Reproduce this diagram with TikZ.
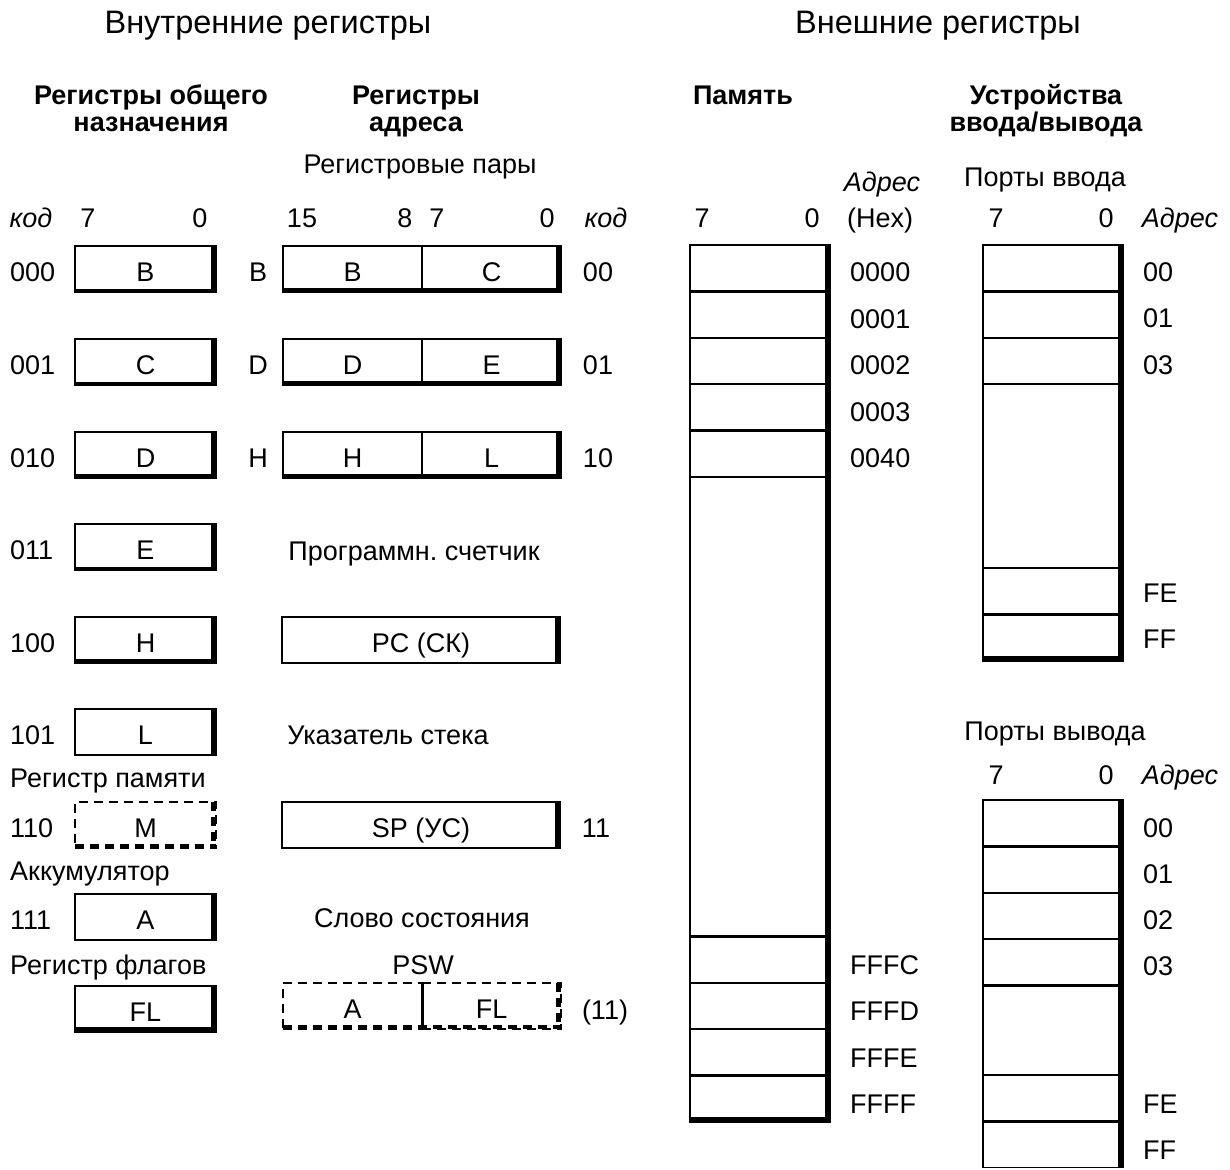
\documentclass[tikz,border=0pt]{standalone}
\usepackage{fontspec}
\setmainfont{Liberation Sans}
\usepackage{tikz}
\usetikzlibrary{calc}

\newcommand{\regfont}{\fontsize{27}{27}\selectfont}
\newcommand{\titlefont}{\fontsize{32.5}{33}\selectfont}
\tikzset{
  txt/.style={font=\regfont, inner sep=0pt, text height=19.5pt, text depth=0pt},
  itx/.style={txt, font=\regfont\itshape},
  hdr/.style={font=\regfont\bfseries, align=center, inner sep=0pt},
  regbox/.style={draw, line width=1.5pt, outer sep=0pt, inner sep=0pt,
    minimum width=141pt, minimum height=46pt, font=\regfont,
    text height=24pt, text depth=0pt},
  pairbox/.style={regbox, minimum width=139pt},
  longbox/.style={regbox, minimum width=278pt},
  dashbox/.style={dash pattern=on 9pt off 6pt},
  cell/.style={line width=2.5pt},
}
% thick right and lower edge of a register
\newcommand{\regedge}[4][]{%
  \draw[line width=5pt,#1] ([xshift=-2.5pt]#3.north east) -- ([xshift=-2.5pt]#3.south east);
  \draw[line width=#4pt,#1] ([yshift=#4pt/2]#2.south west) -- ([yshift=#4pt/2]#3.south east);}

\begin{document}
\begin{tikzpicture}[x=1pt, y=-1pt]
  \useasboundingbox (0,0) rectangle (1230,1169);
  % headings
  \node[txt, font=\titlefont, text height=23.5pt] (tint) at (268,22) {Внутренние регистры};
  \node[txt, font=\titlefont, text height=23.5pt] (text) at (938,22) {Внешние регистры};
  \node[hdr] (hgen) at (151,108) {Регистры общего\\назначения};
  \node[hdr] (hadr) at (416,112) {Регистры\\адреса};
  \node[hdr] (hmem) at (743,95) {Память};
  \node[hdr] (hio) at (1046,111) {Устройства\\ввода/вывода};
  \node[txt] (hpair) at (420,164) {Регистровые пары};
  \node[itx] (hhex) at (882,182) {Адрес};
  \node[txt] (hin) at (1045,177) {Порты ввода};

  % bit numbers
  \foreach \bit/\xx [count=\i] in {7/88, 0/200, 15/302, 8/405, 7/437, 0/547, 7/702, 0/812, 7/996, 0/1106}
    \node[txt] (bit\i) at (\xx,218) {\bit};
  \node[txt] (bhex) at (880,218) {(Hex)};
  \node[itx] (kodl) at (31,218) {код};
  \node[itx] (kodr) at (606,218) {код};
  \node[itx] (adin) at (1180,218) {Адрес};

  % general purpose registers
  \foreach \code/\reg/\yy/\bw in {000/B/272/3, 001/C/365/3, 010/D/458/4.5, 011/E/550/3, 100/H/643/4, 101/L/735/1.5, 111/A/920/1.5}{
    \node[txt, anchor=west] (c\reg) at (10,\yy) {\code};
    \node[regbox] (g\reg) at (145.5,\yy-3) {\reg};
    \regedge{g\reg}{g\reg}{\bw}
  }
  \node[txt, anchor=west] (lmem) at (10,778) {Регистр памяти};
  \node[txt, anchor=west] (cM) at (10,828) {110};
  \node[regbox, dashbox] (gM) at (145.5,825) {M};
  \regedge[dashbox]{gM}{gM}{4}
  \node[txt, anchor=west] (lacc) at (10,871) {Аккумулятор};
  \node[txt, anchor=west] (lflag) at (10,965) {Регистр флагов};
  \node[regbox] (gFL) at (145.5,1009) {FL};
  \regedge{gFL}{gFL}{5}

  % register pairs
  \foreach \pr/\hi/\lo/\code/\yy in {B/B/C/00/272, D/D/E/01/365, H/H/L/10/458}{
    \node[txt] (n\pr) at (258,\yy) {\pr};
    \node[pairbox] (ph\pr) at (352.5,\yy-3) {\hi};
    \node[pairbox] (pl\pr) at (491.5,\yy-3) {\lo};
    \regedge{ph\pr}{pl\pr}{4}
    \node[txt] (k\pr) at (598,\yy) {\code};
  }
  \node[txt] (tpc) at (414,551) {Программн.\ счетчик};
  \node[longbox] (pc) at (421,640) {PC (СК)};
  \regedge{pc}{pc}{1.5}
  \node[txt] (tsp) at (388,735) {Указатель стека};
  \node[longbox] (sp) at (421,825) {SP (УС)};
  \regedge{sp}{sp}{1.5}
  \node[txt] (ksp) at (596,828) {11};
  \node[txt] (tsw) at (422,918) {Слово состояния};
  \node[txt] (tpsw) at (423,965) {PSW};
  \node[pairbox, dashbox] (wA) at (352.5,1006) {A};
  \node[pairbox, dashbox] (wF) at (491.5,1006) {FL};
  \regedge[dashbox]{wA}{wF}{4.5}
  \draw[line width=3pt] (wA.north east) -- (wA.south east);
  \node[txt] (kpsw) at (605,1010) {(11)};

  % memory
  \draw[line width=1.5pt] (690,245) rectangle (830,1122);
  \foreach \k in {1,...,5}
    \draw[cell] (690,245+46.4*\k) -- (830,245+46.4*\k);
  \foreach \k in {0,...,3}
    \draw[cell] (690,936.4+46.4*\k) -- (830,936.4+46.4*\k);
  \draw[line width=5pt] (827.5,245) -- (827.5,1122);
  \draw[line width=5pt] (690,1119.5) -- (830,1119.5);
  \foreach \adr [count=\k from 0] in {0000,0001,0002,0003,0040}
    \node[txt, anchor=west] (m\adr) at (850,272.2+46.4*\k) {\adr};
  \foreach \adr [count=\k from 0] in {FFFC,FFFD,FFFE,FFFF}
    \node[txt, anchor=west] (m\adr) at (850,964.6+46.4*\k) {\adr};

  % input ports
  \draw[line width=1.5pt] (983,245) rectangle (1123,661);
  \foreach \yy in {291.4,337.8,384.2,568.2,614.6}
    \draw[cell] (983,\yy) -- (1123,\yy);
  \draw[line width=5pt] (1120.5,245) -- (1120.5,661);
  \draw[line width=5pt] (983,658.5) -- (1123,658.5);
  \foreach \adr/\yy in {00/272, 01/318, 03/365, FE/593, FF/639}
    \node[txt, anchor=west] (i\adr) at (1143,\yy) {\adr};

  % output ports
  \node[txt] (hout) at (1055,731) {Порты вывода};
  \node[txt] (obit7) at (996,775) {7};
  \node[txt] (obit0) at (1106,775) {0};
  \node[itx] (adout) at (1180,775) {Адрес};
  \draw[line width=1.5pt] (983,800) rectangle (1123,1167.5);
  \foreach \yy in {846.4,892.8,939.2,985.6,1075.2,1121.6}
    \draw[cell] (983,\yy) -- (1123,\yy);
  \draw[line width=5pt] (1120.5,800) -- (1120.5,1168);
  \foreach \adr/\yy in {00/828, 01/874, 02/920, 03/966, FE/1104, FF/1150}
    \node[txt, anchor=west] (o\adr) at (1143,\yy) {\adr};
\end{tikzpicture}
\end{document}
